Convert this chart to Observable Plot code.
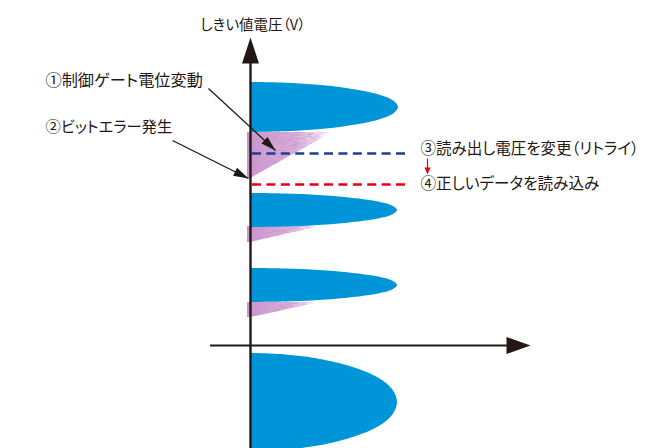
<!DOCTYPE html>
<html><head><meta charset="utf-8">
<script src="https://cdn.jsdelivr.net/npm/d3@7"></script>
<script src="https://cdn.jsdelivr.net/npm/@observablehq/plot@0.6"></script>
<style>html,body{margin:0;padding:0;background:#fff;overflow:hidden}</style>
</head><body>
<svg width="0" height="0" style="position:absolute">
<defs>
<linearGradient id="tailGrad" x1="0" y1="0" x2="1" y2="0">
<stop offset="0" stop-color="#cc93c9" stop-opacity="1"/>
<stop offset="0.6" stop-color="#d7a8d4" stop-opacity="0.9"/>
<stop offset="0.85" stop-color="#e3c0e0" stop-opacity="0.65"/>
<stop offset="1" stop-color="#eed8ec" stop-opacity="0.3"/>
</linearGradient>
<filter id="mottle" x="-0.05" y="-0.05" width="1.1" height="1.1">
<feTurbulence type="fractalNoise" baseFrequency="0.15 0.6" numOctaves="3" seed="7" result="noise"/>
<feColorMatrix in="noise" type="matrix" values="0 0 0 0 0.58  0 0 0 0 0.32  0 0 0 0 0.66  0 0 0 3 -1.2" result="spots"/>
<feComposite in="spots" in2="SourceAlpha" operator="in" result="spotsIn"/>
<feMerge><feMergeNode in="SourceGraphic"/><feMergeNode in="spotsIn"/></feMerge>
</filter>
</defs></svg>
<div id="chart"></div>
<script>
// ---- data (threshold voltage on y, relative cell count on x) ----
const distCenter = [-0.57, 0.60, 1.35, 2.38];
const distHalf   = [0.49, 0.17, 0.17, 0.25];
const distPeak   = [1.47, 1.47, 1.47, 1.48];
// shape of one distribution (half-ellipse)
const profileT = [-1, -0.97, -0.9, -0.75, -0.5, -0.25, 0, 0.25, 0.5, 0.75, 0.9, 0.97, 1];
const profileW = [0, 0.24, 0.44, 0.66, 0.87, 0.97, 1, 0.97, 0.87, 0.66, 0.44, 0.24, 0];

// drifted tails (bit errors) under three distributions
const tailTop    = [0.43, 1.19, 2.13];
const tailBottom = [0.28, 1.03, 1.67];
const tailWidth  = [0.66, 0.66, 0.78];
const tailFrac   = [0, 0.1, 1];
const tailW      = [1, 0.95, 0];

// read voltages: retry (blue) and correct (red)
const readLevels = [1.92, 1.61];
const readColors = ["#1d3f92", "#e60012"];
const readLength = 1.60;

// axes
const yAxisLow = -1.03, yAxisHigh = 2.84, yAxisTip = 3.08;
const xAxisLow = -0.40, xAxisHigh = 2.58, xAxisTip = 2.80;

// labels
const labelText = ["しきい値電圧（V）", "①制御ゲート電位変動", "②ビットエラー発生", "③読み出し電圧を変更（リトライ）", "④正しいデータを読み込み"];
const labelX = [-0.50, -2.05, -2.05, 1.70, 1.70];
const labelY = [3.20, 2.65, 2.18, 1.96, 1.62];

// annotation arrows
const arrowX1 = [-0.42, -0.78];
const arrowY1 = [2.57, 2.05];
const arrowX2 = [0.25, -0.02];
const arrowY2 = [1.95, 1.67];
// small red arrow between steps 3 and 4
const stepX = 1.77, stepY1 = 1.87, stepY2 = 1.71;

// ---- style ----
const labelFont = [14.5, 16.2, 15.3, 15.5, 15.6];

// ---- build ----
const W = 659, H = 448;
const xDomain = [-2.5, 4.09], yDomain = [-1.03, 3.45];
const kx = W / (xDomain[1] - xDomain[0]), ky = H / (yDomain[1] - yDomain[0]);
const ink = "#231815";

const blobs = [];
distCenter.forEach((c, i) => profileT.forEach((t, j) => blobs.push({d: i, y: c + t * distHalf[i], x: profileW[j] * distPeak[i]})));
const tails = [];
tailTop.forEach((t, i) => tailFrac.forEach((f, j) => tails.push({d: i, y: t - f * (t - tailBottom[i]), x: tailW[j] * tailWidth[i]})));

function head(L, Wd, deg) {
  const r = deg * Math.PI / 180, ux = Math.sin(r), uy = -Math.cos(r);
  return {draw(ctx) {
    const bx = -ux * L, by = -uy * L, px = -uy, py = ux;
    ctx.moveTo(0, 0);
    ctx.lineTo(bx + px * Wd / 2, by + py * Wd / 2);
    ctx.lineTo(bx - px * Wd / 2, by - py * Wd / 2);
    ctx.closePath();
  }};
}
function angle(x1, y1, x2, y2) {
  const dx = (x2 - x1) * kx, dy = -(y2 - y1) * ky;
  return Math.atan2(dx, -dy) * 180 / Math.PI;
}

const arrows = arrowX1.map((x, i) => ({x1: x, y1: arrowY1[i], x2: arrowX2[i], y2: arrowY2[i]}));
const labels = labelText.map((t, i) => ({t, x: labelX[i], y: labelY[i], i}));
const reads = readLevels.map((v, i) => ({v, c: readColors[i]}));

const plot = Plot.plot({
  width: W, height: H, margin: 0,
  x: {domain: xDomain, axis: null},
  y: {domain: yDomain, axis: null},
  style: "background:#fff;font-family:'Noto Sans CJK JP',sans-serif;font-feature-settings:'palt';overflow:hidden",
  marks: [
    Plot.areaX(tails, {y: "y", x1: -0.03, x2: "x", z: "d", fill: "url(#tailGrad)", curve: "linear"}),
    Plot.areaX(blobs, {y: "y", x1: 0, x2: "x", z: "d", fill: "#0095d9", curve: "catmull-rom"}),
    reads.map(r => Plot.ruleY([r.v], {x1: 0.02, x2: readLength, stroke: r.c, strokeWidth: 2.6, strokeDasharray: "9,5.4"})),
    Plot.ruleX([0], {y1: yAxisLow, y2: yAxisHigh, stroke: ink, strokeWidth: 2.4}),
    Plot.ruleY([0], {x1: xAxisLow, x2: xAxisHigh, stroke: ink, strokeWidth: 2}),
    Plot.dot([{x: 0, y: yAxisTip}], {x: "x", y: "y", symbol: head(26, 17, 0), fill: ink, stroke: "none"}),
    Plot.dot([{x: xAxisTip, y: 0}], {x: "x", y: "y", symbol: head(24, 17, 90), fill: ink, stroke: "none"}),
    Plot.link(arrows, {x1: "x1", y1: "y1", x2: "x2", y2: "y2", stroke: ink, strokeWidth: 1.3}),
    arrows.map(a => Plot.dot([a], {x: "x2", y: "y2", symbol: head(15, 9, angle(a.x1, a.y1, a.x2, a.y2)), fill: ink, stroke: "none"})),
    Plot.link([{x: stepX, y1: stepY1, y2: stepY2 + 0.04}], {x1: "x", x2: "x", y1: "y1", y2: "y2", stroke: "#e60012", strokeWidth: 1.2}),
    Plot.dot([{x: stepX, y: stepY2}], {x: "x", y: "y", symbol: head(7, 6, 180), fill: "#e60012", stroke: "none"}),
    labels.map(l => Plot.text([l], {x: "x", y: "y", text: "t", textAnchor: "start", fontSize: labelFont[l.i], fill: ink}))
  ]
});
d3.select(plot).select('g[aria-label="area"]').attr("filter", "url(#mottle)");
document.getElementById("chart").appendChild(plot);
</script>
</body></html>
